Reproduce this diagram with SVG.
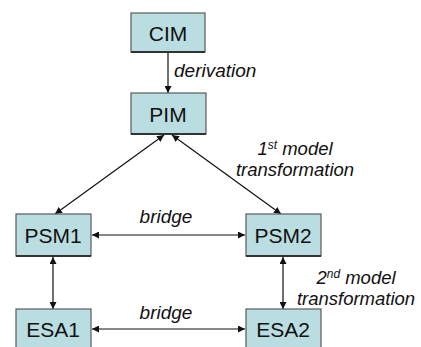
<svg xmlns="http://www.w3.org/2000/svg" width="421" height="347" viewBox="0 0 421 347">
<defs>
<style>
.box{fill:#b9dde0;stroke:#5a5a5a;stroke-width:1.2}
.shadow{stroke:#333;stroke-width:2}
.lbl{font-family:"Liberation Sans",Arial,sans-serif;font-size:21px;fill:#111;text-anchor:middle}
.it{font-family:"Liberation Sans",Arial,sans-serif;font-size:19px;font-style:italic;fill:#111}
.it2{font-size:18.5px}
.sup{font-size:12px}
.conn{stroke:#111;stroke-width:1.2;fill:none;marker-end:url(#ah)}
.bi{marker-start:url(#ahs)}
</style>
<marker id="ah" viewBox="0 0 10 10" refX="10" refY="5" markerWidth="7" markerHeight="7" markerUnits="userSpaceOnUse" orient="auto"><path d="M0,0 L10,5 L0,10 z" fill="#111"/></marker>
<marker id="ahs" viewBox="0 0 10 10" refX="0" refY="5" markerWidth="7" markerHeight="7" markerUnits="userSpaceOnUse" orient="auto"><path d="M10,0 L0,5 L10,10 z" fill="#111"/></marker>
</defs>
<rect width="421" height="347" fill="#fff"/>
<g id="connectors">
<line class="conn" x1="168" y1="53" x2="168" y2="93"/>
<line class="conn bi" x1="164" y1="135" x2="55" y2="214"/>
<line class="conn bi" x1="172" y1="135" x2="281" y2="214"/>
<line class="conn bi" x1="92" y1="235" x2="245" y2="235"/>
<line class="conn bi" x1="53" y1="257" x2="53" y2="309"/>
<line class="conn bi" x1="283" y1="257" x2="283" y2="309"/>
<line class="conn bi" x1="92" y1="329" x2="245" y2="329"/>
</g>
<g id="labels">
<text class="it" x="174" y="77">derivation</text>
<text class="it it2" x="295" y="155" text-anchor="middle">1<tspan class="sup" dy="-6">st</tspan><tspan dy="6"> model</tspan></text>
<text class="it it2" x="295" y="175.5" text-anchor="middle">transformation</text>
<text class="it" x="166" y="223" text-anchor="middle">bridge</text>
<text class="it it2" x="356" y="284" text-anchor="middle">2<tspan class="sup" dy="-6">nd</tspan><tspan dy="6"> model</tspan></text>
<text class="it it2" x="356" y="304.5" text-anchor="middle">transformation</text>
<text class="it" x="166" y="319" text-anchor="middle">bridge</text>
</g>
<g id="CIM"><rect class="box" x="131" y="13" width="74" height="39"/><line class="shadow" x1="131" y1="52" x2="205" y2="52"/><text class="lbl" x="168" y="41">CIM</text></g>
<g id="PIM"><rect class="box" x="131" y="93" width="75" height="41"/><line class="shadow" x1="131" y1="134" x2="206" y2="134"/><text class="lbl" x="168" y="122">PIM</text></g>
<g id="PSM1"><rect class="box" x="16" y="214" width="75" height="42"/><line class="shadow" x1="16" y1="256" x2="91" y2="256"/><text class="lbl" x="53" y="243">PSM1</text></g>
<g id="PSM2"><rect class="box" x="246" y="214" width="75" height="42"/><line class="shadow" x1="246" y1="256" x2="321" y2="256"/><text class="lbl" x="283" y="243">PSM2</text></g>
<g id="ESA1"><rect class="box" x="16" y="309" width="75" height="42"/><text class="lbl" x="53" y="337">ESA1</text></g>
<g id="ESA2"><rect class="box" x="246" y="309" width="75" height="42"/><text class="lbl" x="283" y="337">ESA2</text></g>
</svg>
